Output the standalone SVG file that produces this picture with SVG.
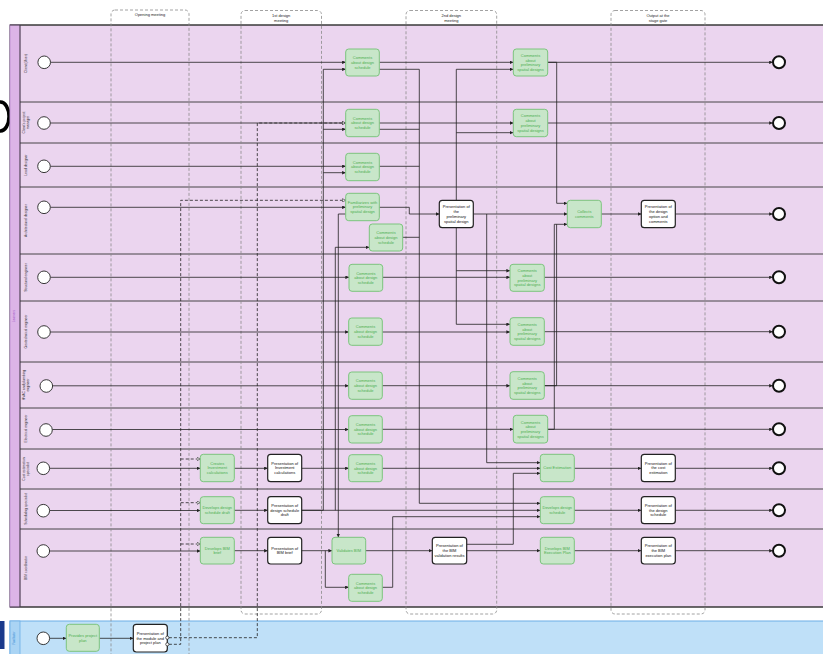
<svg xmlns="http://www.w3.org/2000/svg" width="823" height="654" viewBox="0 0 823 654">
<defs>
<style>
text{font-family:"Liberation Sans",Arial,sans-serif;}
.lane{stroke:#333;stroke-width:0.9;fill:none}
.lbl{font-size:3.4px;fill:#333;text-anchor:middle}
.phase{fill:none;stroke:#8a8a8a;stroke-width:0.8;stroke-dasharray:3 2}
.ph{font-size:4px;fill:#222;text-anchor:middle}
.g rect{fill:#c8e6c9;stroke:#7cc47e;stroke-width:1}
.g text{font-size:4px;fill:#4caf50;text-anchor:middle}
.w rect{fill:#fff;stroke:#222;stroke-width:1.2}
.w text{font-size:4px;fill:#111;text-anchor:middle}
.c path{fill:none;stroke:#222;stroke-width:0.8}
.c .m{stroke-dasharray:3 2}
.start{fill:#fff;stroke:#222;stroke-width:0.9}
.end{fill:#fff;stroke:#111;stroke-width:2}
</style>
<marker id="a" viewBox="0 0 6 6" refX="6" refY="3" markerWidth="3.6" markerHeight="3.6" orient="auto" markerUnits="userSpaceOnUse"><path d="M0,0 L6,3 L0,6 z" fill="#222"/></marker>
<marker id="o" viewBox="0 0 6 6" refX="5.6" refY="3" markerWidth="4" markerHeight="4" orient="auto" markerUnits="userSpaceOnUse"><path d="M0.6,0.6 L5.6,3 L0.6,5.4 z" fill="#fff" stroke="#222" stroke-width="0.9"/></marker>
</defs>
<rect width="823" height="654" fill="#fff"/>
<!-- artifacts -->
<ellipse cx="0.5" cy="116.5" rx="8.5" ry="14.5" fill="none" stroke="#000" stroke-width="3.5"/>
<rect x="0" y="621" width="4.5" height="28" fill="#1b3a8c"/>

<!-- Learners pool -->
<g id="pool-learners">
<rect x="10" y="25" width="830" height="582" fill="#ebd5ef" stroke="#333" stroke-width="1"/>
<rect x="10" y="25" width="10" height="582" fill="#dcb4e7" stroke="#b98ad0" stroke-width="0.8"/>
<line class="lane" x1="20" y1="25" x2="20" y2="607"/>
<line class="lane" x1="10" y1="25" x2="823" y2="25" stroke-width="1.3"/>
<path class="lane" d="M20,102H823M20,143H823M20,187H823M20,254H823M20,301H823M20,362H823M20,408H823M20,449H823M20,489H823M20,529H823M10,607H823"/>
<text x="15.2" y="316" transform="rotate(-90 15.2 316)" style="font-size:3px;fill:#a25bc9;text-anchor:middle">Learners</text>
<text class="lbl" x="27.2" y="63.5" transform="rotate(-90 27.2 63.5)">Client (User)</text>
<text class="lbl" transform="rotate(-90 27.2 122.5)" x="27.2" y="122.5"><tspan x="27.2" dy="-2">Client's project</tspan><tspan x="27.2" dy="4">manager</tspan></text>
<text class="lbl" x="27.2" y="165" transform="rotate(-90 27.2 165)">Lead designer</text>
<text class="lbl" x="27.2" y="220.5" transform="rotate(-90 27.2 220.5)">Architectural designer</text>
<text class="lbl" x="27.2" y="277.5" transform="rotate(-90 27.2 277.5)">Structural engineer</text>
<text class="lbl" x="27.2" y="331.5" transform="rotate(-90 27.2 331.5)">Geotechnical engineer</text>
<text class="lbl" transform="rotate(-90 27.2 385)" x="27.2" y="385"><tspan x="27.2" dy="-2">HVAC and plumbing</tspan><tspan x="27.2" dy="4">engineer</tspan></text>
<text class="lbl" x="27.2" y="428.5" transform="rotate(-90 27.2 428.5)">Electrical engineer</text>
<text class="lbl" transform="rotate(-90 27.2 469)" x="27.2" y="469"><tspan x="27.2" dy="-2">Cost estimation</tspan><tspan x="27.2" dy="4">specialist</tspan></text>
<text class="lbl" x="27.2" y="509" transform="rotate(-90 27.2 509)">Scheduling specialist</text>
<text class="lbl" x="27.2" y="568" transform="rotate(-90 27.2 568)">BIM coordinator</text>
</g>

<!-- Facilitator pool -->
<g id="pool-facilitator">
<rect x="10" y="621" width="830" height="40" fill="#bfe0f8" stroke="#6caee6" stroke-width="1"/>
<rect x="10" y="621" width="10" height="40" fill="#aad4f4" stroke="#6caee6" stroke-width="0.8"/>
<text x="15.2" y="638" transform="rotate(-90 15.2 638)" style="font-size:3px;fill:#3d8fd6;text-anchor:middle">Facilitator</text>
</g>

<!-- Phases -->
<g id="phases">
<rect class="phase" x="111" y="10" width="78" height="700" rx="4"/>
<text class="ph" x="150" y="16.3">Opening meeting</text>
<rect class="phase" x="241" y="10.5" width="80.5" height="603.5" rx="4"/>
<text class="ph" x="281.2" y="17.2">1st design<tspan x="281.2" dy="4.6">meeting</tspan></text>
<rect class="phase" x="406" y="10.5" width="90.7" height="603.5" rx="4"/>
<text class="ph" x="451.3" y="17.2">2nd design<tspan x="451.3" dy="4.6">meeting</tspan></text>
<rect class="phase" x="611" y="10.5" width="94" height="603.5" rx="4"/>
<text class="ph" x="658" y="17.2">Output at the<tspan x="658" dy="4.6">stage gate</tspan></text>
</g>

<!-- Connectors -->
<g id="connectors" class="c">
<!-- Client -->
<path d="M50.5,62.3H345.7" marker-end="url(#a)"/>
<path d="M379.3,62.3H513.3" marker-end="url(#a)"/>
<path d="M547.7,62.3H772.8" marker-end="url(#a)"/>
<path d="M547.7,62.3H556.7V203.3H567.3" marker-end="url(#a)"/>
<path d="M301.7,510.3H323.3V69.3H345.7" marker-end="url(#a)"/>
<path d="M323.3,129.3H345.7" marker-end="url(#a)"/>
<path d="M323.3,172.7H345.7" marker-end="url(#a)"/>
<path d="M379.3,69.3H419.3V503.3H540.3" marker-end="url(#a)"/>
<path d="M379.3,129.3H419.3M379.3,166.3H419.3M402.7,237.3H419.3"/>
<path d="M456.3,200.3V69.3H513.3" marker-end="url(#a)"/>
<path d="M456.3,132.7H513.3" marker-end="url(#a)"/>
<path d="M456.3,227.7V324.3H510" marker-end="url(#a)"/>
<path d="M456.3,270.7H510" marker-end="url(#a)"/>
<!-- Client PM -->
<path d="M50.3,123H345.7" marker-end="url(#a)"/>
<path d="M379.3,123H513.3" marker-end="url(#a)"/>
<path d="M547.7,123H772.8" marker-end="url(#a)"/>
<!-- Lead -->
<path d="M50.3,166.3H345.7" marker-end="url(#a)"/>
<!-- Architectural -->
<path d="M50.3,207.3H345.7" marker-end="url(#a)"/>
<path d="M379.3,207.3H409.3V214H439.3" marker-end="url(#a)"/>
<path d="M345.7,214H338.3V537.3" marker-end="url(#a)"/>
<path d="M335.3,510.3V247.3H369.3" marker-end="url(#a)"/>
<path d="M473.3,214H567.3" marker-end="url(#a)"/>
<path d="M486.7,214V462.7H540.3" marker-end="url(#a)"/>
<path d="M601.3,214H641.3" marker-end="url(#a)"/>
<path d="M675.3,214H772.8" marker-end="url(#a)"/>
<path d="M547.7,429.3H554.3V224.3H567.3" marker-end="url(#a)"/>
<path d="M544.3,385.7H556.6V224.3"/>
<!-- Structural -->
<path d="M50.3,277.3H349" marker-end="url(#a)"/>
<path d="M382.7,277.3H510" marker-end="url(#a)"/>
<path d="M544.3,277.3H772.8" marker-end="url(#a)"/>
<!-- Geotech -->
<path d="M50.3,332H348.7" marker-end="url(#a)"/>
<path d="M382.3,332H510" marker-end="url(#a)"/>
<path d="M544.3,331.7H772.8" marker-end="url(#a)"/>
<!-- HVAC -->
<path d="M52.6,385.8H348.7" marker-end="url(#a)"/>
<path d="M382.3,385.7H510" marker-end="url(#a)"/>
<path d="M544.3,385.7H772.8" marker-end="url(#a)"/>
<!-- Electrical -->
<path d="M52.3,429.5H348.7" marker-end="url(#a)"/>
<path d="M382.3,429.3H513.3" marker-end="url(#a)"/>
<path d="M547.7,429.3H772.8" marker-end="url(#a)"/>
<!-- Cost -->
<path d="M49.6,468.3H200.3" marker-end="url(#a)"/>
<path d="M234.3,468.3H267.7" marker-end="url(#a)"/>
<path d="M301.7,468.3H348.7" marker-end="url(#a)"/>
<path d="M382.3,468.3H540.3" marker-end="url(#a)"/>
<path d="M574.3,468.3H641.3" marker-end="url(#a)"/>
<path d="M675.3,468.3H772.8" marker-end="url(#a)"/>
<!-- Scheduling -->
<path d="M49.6,510.5H200.3" marker-end="url(#a)"/>
<path d="M234.3,510.3H267.7" marker-end="url(#a)"/>
<path d="M301.7,510.3H540.3" marker-end="url(#a)"/>
<path d="M382.3,587.3H392.7V516.7H540.3" marker-end="url(#a)"/>
<path d="M574.3,510.3H641.3" marker-end="url(#a)"/>
<path d="M675.3,510.3H772.8" marker-end="url(#a)"/>
<!-- BIM -->
<path d="M49.6,551H200.3" marker-end="url(#a)"/>
<path d="M234.3,550.7H267.7" marker-end="url(#a)"/>
<path d="M301.7,550.7H332" marker-end="url(#a)"/>
<path d="M325.3,550.7V587.3H348.7" marker-end="url(#a)"/>
<path d="M365.7,550.7H432.3" marker-end="url(#a)"/>
<path d="M466.7,550.7H540.3" marker-end="url(#a)"/>
<path d="M466.7,544.3H513.3V473.3H540.3" marker-end="url(#a)"/>
<path d="M574.3,550.7H641.3" marker-end="url(#a)"/>
<path d="M675.3,550.7H772.8" marker-end="url(#a)"/>
<!-- Facilitator -->
<path d="M49.6,638.3H66.3" marker-end="url(#a)"/>
<path d="M99.3,638.3H133.3" marker-end="url(#a)"/>
<!-- Message flows -->
<path class="m" d="M168.9,637.7H257.3V123H345.7" marker-end="url(#o)"/>
<path class="m" d="M168.9,644.3H180.7V200.3H345.7" marker-end="url(#o)"/>
<path class="m" d="M180.7,459H200.3" marker-end="url(#o)"/>
<path class="m" d="M180.7,502.7H200.3" marker-end="url(#o)"/>
<path class="m" d="M180.7,544H200.3" marker-end="url(#o)"/>
</g>

<!-- Events -->
<g id="events">
<circle class="start" cx="44.2" cy="62.3" r="6.3"/>
<circle class="start" cx="44" cy="123" r="6.3"/>
<circle class="start" cx="44" cy="166.3" r="6.3"/>
<circle class="start" cx="44" cy="207.3" r="6.3"/>
<circle class="start" cx="44" cy="277.3" r="6.3"/>
<circle class="start" cx="44" cy="332" r="6.3"/>
<circle class="start" cx="46.3" cy="386" r="6.3"/>
<circle class="start" cx="46" cy="430" r="6.3"/>
<circle class="start" cx="43.3" cy="468.3" r="6.3"/>
<circle class="start" cx="43.3" cy="510.7" r="6.3"/>
<circle class="start" cx="43.3" cy="551" r="6.3"/>
<circle class="start" cx="43.3" cy="638.3" r="6.3"/>
<circle class="end" cx="779" cy="62.3" r="6"/>
<circle class="end" cx="779" cy="123" r="6"/>
<circle class="end" cx="779" cy="214" r="6"/>
<circle class="end" cx="779" cy="277.3" r="6"/>
<circle class="end" cx="779" cy="331.7" r="6"/>
<circle class="end" cx="779" cy="385.7" r="6"/>
<circle class="end" cx="779" cy="429.3" r="6"/>
<circle class="end" cx="779" cy="468.3" r="6"/>
<circle class="end" cx="779" cy="510.3" r="6"/>
<circle class="end" cx="779" cy="550.7" r="6"/>
</g>

<!-- Nodes -->
<g id="n-client-comments" class="g"><rect x="345.7" y="49" width="33.6" height="27" rx="3"/><text x="362.5" y="59.2">Comments<tspan x="362.5" dy="4.7">about design</tspan><tspan x="362.5" dy="4.7">schedule</tspan></text></g>
<g id="n-pm-comments" class="g"><rect x="345.7" y="109.3" width="33.6" height="27.4" rx="3"/><text x="362.5" y="119.7">Comments<tspan x="362.5" dy="4.7">about design</tspan><tspan x="362.5" dy="4.7">schedule</tspan></text></g>
<g id="n-lead-comments" class="g"><rect x="345.7" y="153.3" width="33.6" height="27.4" rx="3"/><text x="362.5" y="163.7">Comments<tspan x="362.5" dy="4.7">about design</tspan><tspan x="362.5" dy="4.7">schedule</tspan></text></g>
<g id="n-familiarizes" class="g"><rect x="345.7" y="193.3" width="33.6" height="27.4" rx="3"/><text x="362.5" y="203.7">Familiarizes with<tspan x="362.5" dy="4.7">preliminary</tspan><tspan x="362.5" dy="4.7">spatial design</tspan></text></g>
<g id="n-arch-comments" class="g"><rect x="369.3" y="224" width="33.4" height="27" rx="3"/><text x="386" y="234.2">Comments<tspan x="386" dy="4.7">about design</tspan><tspan x="386" dy="4.7">schedule</tspan></text></g>
<g id="n-struct-comments" class="g"><rect x="349" y="264.3" width="33.7" height="27" rx="3"/><text x="365.8" y="274.5">Comments<tspan x="365.8" dy="4.7">about design</tspan><tspan x="365.8" dy="4.7">schedule</tspan></text></g>
<g id="n-geo-comments" class="g"><rect x="348.7" y="318" width="33.6" height="27.3" rx="3"/><text x="365.5" y="328.4">Comments<tspan x="365.5" dy="4.7">about design</tspan><tspan x="365.5" dy="4.7">schedule</tspan></text></g>
<g id="n-hvac-comments" class="g"><rect x="348.7" y="372" width="33.6" height="27.3" rx="3"/><text x="365.5" y="382.4">Comments<tspan x="365.5" dy="4.7">about design</tspan><tspan x="365.5" dy="4.7">schedule</tspan></text></g>
<g id="n-elec-comments" class="g"><rect x="348.7" y="415.7" width="33.6" height="27.3" rx="3"/><text x="365.5" y="426">Comments<tspan x="365.5" dy="4.7">about design</tspan><tspan x="365.5" dy="4.7">schedule</tspan></text></g>
<g id="n-cost-comments" class="g"><rect x="348.7" y="454.7" width="33.6" height="27" rx="3"/><text x="365.5" y="464.9">Comments<tspan x="365.5" dy="4.7">about design</tspan><tspan x="365.5" dy="4.7">schedule</tspan></text></g>
<g id="n-validates-bim" class="g"><rect x="332" y="537.3" width="33.7" height="26.7" rx="3"/><text x="348.8" y="552.1">Validates BIM</text></g>
<g id="n-bim-comments" class="g"><rect x="348.7" y="574.3" width="33.6" height="27" rx="3"/><text x="365.5" y="584.5">Comments<tspan x="365.5" dy="4.7">about design</tspan><tspan x="365.5" dy="4.7">schedule</tspan></text></g>
<g id="n-creates-inv" class="g"><rect x="200.3" y="454.3" width="34" height="27.4" rx="3"/><text x="217.3" y="464.7">Creates<tspan x="217.3" dy="4.7">Investment</tspan><tspan x="217.3" dy="4.7">calculations</tspan></text></g>
<g id="n-dev-sched-draft" class="g"><rect x="200.3" y="496.7" width="34" height="27" rx="3"/><text x="217.3" y="509.3">Develops design<tspan x="217.3" dy="4.7">schedule draft</tspan></text></g>
<g id="n-dev-bim-brief" class="g"><rect x="200.3" y="537.3" width="34" height="26.7" rx="3"/><text x="217.3" y="549.7">Develops BIM<tspan x="217.3" dy="4.7">brief</tspan></text></g>
<g id="n-pres-inv" class="w"><rect x="267.7" y="454.3" width="34" height="27.4" rx="3"/><text x="284.7" y="464.7">Presentation of<tspan x="284.7" dy="4.7">Investment</tspan><tspan x="284.7" dy="4.7">calculations</tspan></text></g>
<g id="n-pres-sched-draft" class="w"><rect x="267.7" y="496.7" width="34" height="27" rx="3"/><text x="284.7" y="506.9">Presentation of<tspan x="284.7" dy="4.7">design schedule</tspan><tspan x="284.7" dy="4.7">draft</tspan></text></g>
<g id="n-pres-bim-brief" class="w"><rect x="267.7" y="537.3" width="34" height="26.7" rx="3"/><text x="284.7" y="549.7">Presentation of<tspan x="284.7" dy="4.7">BIM brief</tspan></text></g>
<g id="n-provides-plan" class="g"><rect x="66.3" y="624.3" width="33" height="27" rx="3"/><text x="82.8" y="636.9">Provides project<tspan x="82.8" dy="4.7">plan</tspan></text></g>
<g id="n-pres-module" class="w"><rect x="133.3" y="624.3" width="34" height="27.7" rx="3"/><text x="150.3" y="634.8">Presentation of<tspan x="150.3" dy="4.7">the module and</tspan><tspan x="150.3" dy="4.7">project plan</tspan></text><circle cx="167.3" cy="637.7" r="1.6" fill="#fff" stroke="#222" stroke-width="0.7"/><circle cx="167.3" cy="644.3" r="1.6" fill="#fff" stroke="#222" stroke-width="0.7"/></g>
<g id="n-pres-prelim" class="w"><rect x="439.3" y="200.3" width="34" height="27.4" rx="3"/><text x="456.3" y="208.4">Presentation of<tspan x="456.3" dy="4.7">the</tspan><tspan x="456.3" dy="4.7">preliminary</tspan><tspan x="456.3" dy="4.7">spatial design</tspan></text></g>
<g id="n-pres-bim-valid" class="w"><rect x="432.3" y="537.3" width="34.4" height="26.7" rx="3"/><text x="449.5" y="547.4">Presentation of<tspan x="449.5" dy="4.7">the BIM</tspan><tspan x="449.5" dy="4.7">validation results</tspan></text></g>
<g id="n-client-spatial" class="g"><rect x="513.3" y="49" width="34.4" height="27" rx="3"/><text x="530.5" y="56.9">Comments<tspan x="530.5" dy="4.7">about</tspan><tspan x="530.5" dy="4.7">preliminary</tspan><tspan x="530.5" dy="4.7">spatial designs</tspan></text></g>
<g id="n-pm-spatial" class="g"><rect x="513.3" y="109.3" width="34.4" height="27.4" rx="3"/><text x="530.5" y="117.4">Comments<tspan x="530.5" dy="4.7">about</tspan><tspan x="530.5" dy="4.7">preliminary</tspan><tspan x="530.5" dy="4.7">spatial designs</tspan></text></g>
<g id="n-struct-spatial" class="g"><rect x="510" y="264.3" width="34.3" height="27" rx="3"/><text x="527.2" y="272.2">Comments<tspan x="527.2" dy="4.7">about</tspan><tspan x="527.2" dy="4.7">preliminary</tspan><tspan x="527.2" dy="4.7">spatial designs</tspan></text></g>
<g id="n-geo-spatial" class="g"><rect x="510" y="317.7" width="34.3" height="27.6" rx="3"/><text x="527.2" y="325.9">Comments<tspan x="527.2" dy="4.7">about</tspan><tspan x="527.2" dy="4.7">preliminary</tspan><tspan x="527.2" dy="4.7">spatial designs</tspan></text></g>
<g id="n-hvac-spatial" class="g"><rect x="510" y="371.7" width="34.3" height="27.6" rx="3"/><text x="527.2" y="379.9">Comments<tspan x="527.2" dy="4.7">about</tspan><tspan x="527.2" dy="4.7">preliminary</tspan><tspan x="527.2" dy="4.7">spatial designs</tspan></text></g>
<g id="n-elec-spatial" class="g"><rect x="513.3" y="415.3" width="34.4" height="27.7" rx="3"/><text x="530.5" y="423.6">Comments<tspan x="530.5" dy="4.7">about</tspan><tspan x="530.5" dy="4.7">preliminary</tspan><tspan x="530.5" dy="4.7">spatial designs</tspan></text></g>
<g id="n-collects" class="g"><rect x="567.3" y="200.3" width="34" height="27.4" rx="3"/><text x="584.3" y="213.1">Collects<tspan x="584.3" dy="4.7">comments</tspan></text></g>
<g id="n-cost-est" class="g"><rect x="540.3" y="454.3" width="34" height="27.4" rx="3"/><text x="557.3" y="469.4">Cost Estimation</text></g>
<g id="n-dev-sched" class="g"><rect x="540.3" y="496.7" width="34" height="27" rx="3"/><text x="557.3" y="509.3">Develops design<tspan x="557.3" dy="4.7">schedule</tspan></text></g>
<g id="n-dev-bim-exec" class="g"><rect x="540.3" y="537.3" width="34" height="26.7" rx="3"/><text x="557.3" y="549.7">Develops BIM<tspan x="557.3" dy="4.7">Execution Plan</tspan></text></g>
<g id="n-pres-option" class="w"><rect x="641.3" y="200.3" width="34" height="27.4" rx="3"/><text x="658.3" y="208.4">Presentation of<tspan x="658.3" dy="4.7">the design</tspan><tspan x="658.3" dy="4.7">option and</tspan><tspan x="658.3" dy="4.7">comments</tspan></text></g>
<g id="n-pres-cost" class="w"><rect x="641.3" y="454.3" width="34" height="27.4" rx="3"/><text x="658.3" y="464.7">Presentation of<tspan x="658.3" dy="4.7">the cost</tspan><tspan x="658.3" dy="4.7">estimation</tspan></text></g>
<g id="n-pres-sched" class="w"><rect x="641.3" y="496.7" width="34" height="27" rx="3"/><text x="658.3" y="506.9">Presentation of<tspan x="658.3" dy="4.7">the design</tspan><tspan x="658.3" dy="4.7">schedule</tspan></text></g>
<g id="n-pres-bim-exec" class="w"><rect x="641.3" y="537.3" width="34" height="26.7" rx="3"/><text x="658.3" y="547.4">Presentation of<tspan x="658.3" dy="4.7">the BIM</tspan><tspan x="658.3" dy="4.7">execution plan</tspan></text></g>
</svg>
